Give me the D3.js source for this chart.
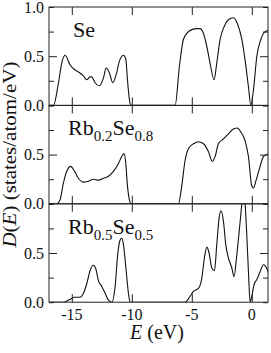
<!DOCTYPE html>
<html>
<head>
<meta charset="utf-8">
<script src="https://cdn.jsdelivr.net/npm/d3@7"></script>
<style>
  body { margin: 0; background: #fff; }
  svg text { font-family: "Liberation Serif", "Times New Roman", Times, "DejaVu Serif", serif; fill: #111; }
</style>
</head>
<body>
<svg class="chart"></svg>
<script>
// energies (eV) and densities of states for each composition
var seE  = [-16.9,-16.53,-16.11,-15.84,-15.56,-15.14,-14.73,-14.45,-14.03,-13.75,-13.48,-13.34,-13.06,-12.70,-12.36,-12.14,-11.86,-11.59,-11.31,-11.03,-10.70,-10.50,-10.36,-10.20,-10.09,
            -6.39,-6.03,-5.70,-5.28,-5.00,-4.58,-4.31,-4.03,-3.75,-3.48,-3.14,-2.92,-2.64,-2.31,-1.95,-1.53,-1.20,-0.83,-0.56,-0.28,-0.08,0.14,0.42,0.75,1.11,1.38];
var seD  = [0,0,0.23,0.43,0.51,0.41,0.36,0.34,0.30,0.26,0.29,0.29,0.23,0.20,0.28,0.38,0.33,0.23,0.31,0.45,0.51,0.47,0.26,0.06,0,
            0,0.40,0.67,0.75,0.77,0.78,0.78,0.73,0.60,0.43,0.26,0.43,0.67,0.80,0.87,0.89,0.83,0.67,0.46,0.19,0,0.16,0.50,0.67,0.75,0.76];

var rb2E = [-16.9,-16.25,-15.98,-15.70,-15.42,-15.09,-14.81,-14.45,-14.03,-13.61,-13.20,-12.78,-12.36,-11.95,-11.53,-11.11,-10.84,-10.64,-10.50,-10.36,-10.20,-10.06,
            -6.11,-5.84,-5.56,-5.28,-4.86,-4.45,-4.03,-3.61,-3.28,-3.06,-2.78,-2.36,-1.95,-1.53,-1.20,-0.92,-0.56,-0.28,0.0,0.14,0.36,0.69,0.97,1.25,1.39];
var rb2D = [0,0,0.04,0.21,0.33,0.38,0.34,0.26,0.22,0.23,0.25,0.24,0.26,0.28,0.33,0.41,0.48,0.51,0.41,0.18,0.04,0,
            0,0.18,0.44,0.56,0.61,0.63,0.61,0.53,0.43,0.48,0.61,0.66,0.71,0.76,0.77,0.73,0.64,0.48,0.18,0.16,0.24,0.38,0.48,0.50,0.51];

var rb5E = [-16.9,-15.7,-15.14,-14.73,-14.31,-14.03,-13.75,-13.48,-13.2,-13.0,-12.78,-12.5,-12.22,-11.95,-11.67,-11.39,-11.17,-10.98,-10.84,-10.7,-10.5,-10.28,-10.14,
            -5.56,-5.14,-4.86,-4.45,-4.17,-3.95,-3.75,-3.56,-3.34,-3.11,-2.92,-2.72,-2.56,-2.36,-2.17,-1.95,-1.67,-1.48,-1.25,-0.97,-0.78,-0.67,-0.56,-0.42,-0.28,-0.14,0.0,0.19,0.42,0.69,0.97,1.17,1.39];
var rb5D = [0,0,0.03,0.05,0.05,0.09,0.19,0.32,0.375,0.34,0.22,0.16,0.09,0.02,0,0.16,0.49,0.63,0.65,0.59,0.36,0.09,0,
            0,0.06,0.11,0.14,0.24,0.45,0.56,0.50,0.35,0.32,0.585,0.86,0.93,0.82,0.585,0.45,0.35,0.26,0.48,0.82,1.05,1.1,1.0,0.69,0.31,0,0.06,0.18,0.23,0.31,0.38,0.36,0.30];

var xTicks = [-15, -10, -5, 0];
var yTicks = [0, 0.25, 0.5, 0.75, 1];
var yLabels = [[0, 0.5, 1], [0, 0.5], [0, 0.5]];

var width = 271, height = 353;
var left = 49, right = 268, top0 = 7, panelH = 98.4;

var svg = d3.select(".chart").attr("width", width).attr("height", height);

var x = d3.scaleLinear().domain([-16.9, 1.35]).range([left, right]);

var panels = [
  {E: seE, D: seD, name: [["Se", false]]},
  {E: rb2E, D: rb2D, name: [["Rb", false], ["0.2", true], ["Se", false], ["0.8", true]]},
  {E: rb5E, D: rb5D, name: [["Rb", false], ["0.5", true], ["Se", false], ["0.5", true]]}
];

var fmt = d3.format(".1f");

panels.forEach(function(p, i) {
  var y0 = top0 + i * panelH;
  var y = d3.scaleLinear().domain([0, 1]).range([y0 + panelH, y0]);
  var g = svg.append("g");

  g.append("clipPath").attr("id", "clip" + i)
    .append("rect").attr("x", left).attr("y", y0).attr("width", right - left).attr("height", panelH);

  var pts = p.E.map(function(e, k) { return [e, p.D[k]]; });
  var line = d3.line().x(function(d) { return x(d[0]); }).y(function(d) { return y(d[1]); })
    .curve(d3.curveMonotoneX);

  g.append("path").datum(pts)
    .attr("clip-path", "url(#clip" + i + ")")
    .attr("d", line)
    .attr("fill", "none").attr("stroke", "#111").attr("stroke-width", 1.1);

  // ticks pointing inward on all four sides
  g.append("g").attr("transform", "translate(0," + (y0 + panelH) + ")")
    .call(d3.axisTop(x).tickValues(xTicks).tickSize(8).tickFormat(""));
  g.append("g").attr("transform", "translate(0," + y0 + ")")
    .call(d3.axisBottom(x).tickValues(xTicks).tickSize(8).tickFormat(""));
  g.append("g").attr("transform", "translate(" + left + ",0)")
    .call(d3.axisRight(y).tickValues(yTicks).tickSize(0).tickFormat(""))
    .selectAll(".tick line").attr("x2", function(d) { return d === 0.5 ? 8 : 5; });
  g.append("g").attr("transform", "translate(" + right + ",0)")
    .call(d3.axisLeft(y).tickValues(yTicks).tickSize(0).tickFormat(""))
    .selectAll(".tick line").attr("x2", function(d) { return d === 0.5 ? -8 : -5; });

  g.selectAll(".domain").remove();
  g.selectAll(".tick line").attr("stroke", "#222");

  g.append("rect").attr("x", left).attr("y", y0).attr("width", right - left).attr("height", panelH)
    .attr("fill", "none").attr("stroke", "#222").attr("stroke-width", 1);

  g.selectAll(".ylab").data(yLabels[i]).enter().append("text")
    .attr("x", 44).attr("y", function(d) { return y(d) + 5.5; })
    .attr("text-anchor", "end").style("font-size", "16px")
    .text(fmt);

  var lab = g.append("text").attr("x", i === 0 ? 73 : 68).attr("y", y0 + 30)
    .style("font-size", "22px");
  p.name.forEach(function(n, k) {
    lab.append("tspan").text(n[0])
      .attr("dy", n[1] ? 6 : (k > 0 ? -6 : 0))
      .style("font-size", n[1] ? "15px" : "22px");
  });
});

var bottom = top0 + 3 * panelH;
svg.selectAll(".xlab").data(xTicks).enter().append("text")
  .attr("x", function(d) { return x(d); }).attr("y", bottom + 18)
  .attr("text-anchor", "middle").style("font-size", "16px")
  .text(function(d) { return d; });

var xt = svg.append("text").attr("x", 157).attr("y", 339).attr("text-anchor", "middle")
  .style("font-size", "20px");
xt.append("tspan").style("font-style", "italic").text("E");
xt.append("tspan").text(" (eV)");

var yt = svg.append("text").attr("transform", "translate(16," + (top0 + 1.5 * panelH) + ") rotate(-90)")
  .attr("text-anchor", "middle").style("font-size", "19px")
  .attr("textLength", 186).attr("lengthAdjust", "spacingAndGlyphs");
yt.append("tspan").style("font-style", "italic").text("D");
yt.append("tspan").text("(");
yt.append("tspan").style("font-style", "italic").text("E");
yt.append("tspan").text(") (states/atom/eV)");
</script>
</body>
</html>
